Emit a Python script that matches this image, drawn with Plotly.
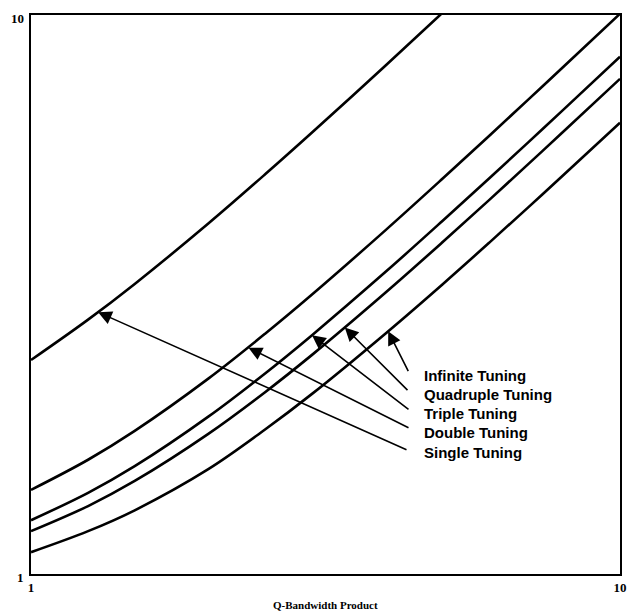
import math
import plotly.graph_objects as go

# Q-Bandwidth product (x) values
q_bw = [1.0, 1.25, 1.5, 2.0, 2.5, 3.0, 4.0, 5.0, 6.0, 7.0, 8.0, 10.0]

single_x = [1.0, 1.25, 1.5, 2.0, 2.5, 3.0, 4.0, 5.0]
single = [2.414, 2.851, 3.303, 4.236, 5.193, 6.162, 8.123, 10.10]
double = [1.414, 1.601, 1.803, 2.236, 2.693, 3.162, 4.123, 5.099, 6.083, 7.071, 8.062, 10.05]
triple = [1.248, 1.397, 1.559, 1.912, 2.287, 2.675, 3.472, 4.285, 5.105, 5.929, 6.757, 8.418]
quadruple = [1.193, 1.323, 1.467, 1.781, 2.117, 2.466, 3.188, 3.925, 4.670, 5.421, 6.175, 7.688]
infinite = [1.094, 1.193, 1.300, 1.540, 1.815, 2.100, 2.694, 3.300, 3.916, 4.537, 5.162, 6.417]

labels = ["Infinite Tuning", "Quadruple Tuning", "Triple Tuning", "Double Tuning", "Single Tuning"]
# arrow tips on the curves (x, y)
tip_x = [4.04, 3.41, 3.00, 2.34, 1.30]
tip_y = [2.718, 2.76, 2.675, 2.54, 2.94]

x_ticks = [1, 10]
x_tick_text = ["1", "10"]
y_ticks = [1, 10]
y_tick_text = ["1", "10"]

fig = go.Figure()
line = dict(color="black", width=2.6, shape="spline")
fig.add_trace(go.Scatter(x=single_x, y=single, mode="lines", line=line))
for ys in [double, triple, quadruple, infinite]:
    fig.add_trace(go.Scatter(x=q_bw, y=ys, mode="lines", line=line))

# figure size / plot area (figure pixels; page adds an 8px body margin)
W, H = 630, 608
L, R, T, B = 23, 612, 5, 566

def px_to_logx(px):  # px in page coords
    return (px - 8 - L) / (R - L)

def py_to_logy(py):  # py in page coords
    return (B - (py - 8)) / (B - T)

tail_px = [(409, 372), (409, 391), (410, 410), (410, 428), (408, 450)]
label_py = [375, 394, 413, 432, 452]

annotations = []
for i, lab in enumerate(labels):
    tx, ty = tail_px[i]
    annotations.append(dict(
        x=math.log10(tip_x[i]), y=math.log10(tip_y[i]), xref="x", yref="y",
        ax=px_to_logx(tx), ay=py_to_logy(ty), axref="x", ayref="y",
        showarrow=True, arrowhead=2, arrowsize=1.7, arrowwidth=1.6,
        arrowcolor="black", text=""))
    annotations.append(dict(
        x=px_to_logx(422), y=py_to_logy(label_py[i]), xref="x", yref="y",
        text="<b>" + lab + "</b>", showarrow=False, xanchor="left", yanchor="middle",
        font=dict(family="Liberation Sans, Arial, sans-serif", size=15, color="black")))

tickfont = dict(family="Liberation Serif, Times New Roman, serif", size=13, color="black")
ylog_min, ylog_max = 0.0, 1.0
for v, t in zip(y_ticks, y_tick_text):
    annotations.append(dict(
        x=px_to_logx(26), y=(math.log10(v) - ylog_min) / (ylog_max - ylog_min),
        xref="paper", yref="paper", yshift=-3,
        text="<b>" + t + "</b>", showarrow=False, xanchor="right", yanchor="middle",
        font=tickfont))

annotations.append(dict(
    x=0.5, y=-31 / (B - T), xref="paper", yref="paper", text="<b>Q-Bandwidth Product</b>",
    showarrow=False, xanchor="center", yanchor="middle",
    font=dict(family="Liberation Serif, Times New Roman, serif", size=11, color="black")))

fig.update_layout(
    width=W, height=H,
    margin=dict(l=L, r=W - R, t=T, b=H - B),
    paper_bgcolor="white", plot_bgcolor="white",
    showlegend=False,
    annotations=annotations,
    xaxis=dict(type="log", range=[0, 1], tickvals=x_ticks,
               ticktext=["<b>" + t + "</b>" for t in x_tick_text],
               showgrid=False, zeroline=False, showline=True, linecolor="black",
               linewidth=2, mirror=True, ticks="", tickfont=tickfont),
    yaxis=dict(type="log", range=[ylog_min, ylog_max], tickvals=y_ticks, showticklabels=False,
               showgrid=False, zeroline=False, showline=True, linecolor="black",
               linewidth=2, mirror=True, ticks=""),
)

fig.write_html("out.html")
